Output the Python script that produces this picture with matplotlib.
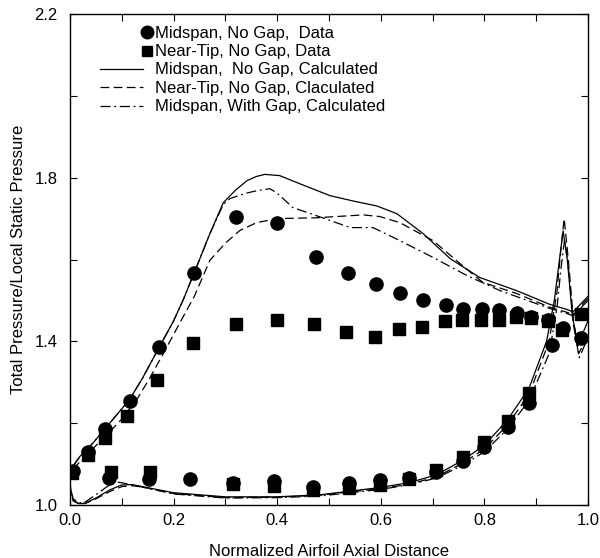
import numpy as np
import matplotlib
matplotlib.use("Agg")
import matplotlib.pyplot as plt
from matplotlib.legend_handler import HandlerLine2D
from matplotlib.ticker import MultipleLocator, FixedLocator

plt.rcParams['font.family'] = ['Liberation Sans', 'DejaVu Sans']
plt.rcParams['font.size'] = 12

# measured data, midspan (circles) and near tip (squares), both surfaces
mid_x = [0.006, 0.034, 0.068, 0.116, 0.172, 0.240, 0.320, 0.399, 0.475, 0.537,
         0.591, 0.637, 0.682, 0.725, 0.759, 0.795, 0.828, 0.862, 0.890, 0.923,
         0.952, 0.986,
         0.075, 0.153, 0.232, 0.315, 0.394, 0.469, 0.539, 0.598, 0.655, 0.706,
         0.759, 0.800, 0.846, 0.886, 0.931]
mid_y = [1.083, 1.129, 1.185, 1.254, 1.386, 1.568, 1.705, 1.690, 1.605, 1.566,
         1.539, 1.517, 1.502, 1.490, 1.478, 1.478, 1.476, 1.469, 1.459, 1.452,
         1.432, 1.407,
         1.066, 1.063, 1.063, 1.053, 1.058, 1.045, 1.053, 1.061, 1.065, 1.081,
         1.107, 1.142, 1.190, 1.249, 1.390]

tip_x = [0.004, 0.034, 0.068, 0.111, 0.168, 0.237, 0.320, 0.400, 0.471, 0.533,
         0.589, 0.635, 0.680, 0.724, 0.757, 0.793, 0.828, 0.861, 0.890, 0.923,
         0.950, 0.987,
         0.079, 0.154, 0.315, 0.394, 0.469, 0.539, 0.598, 0.655, 0.706, 0.759,
         0.800, 0.846, 0.886]
tip_y = [1.078, 1.122, 1.163, 1.217, 1.305, 1.395, 1.443, 1.453, 1.443, 1.424,
         1.410, 1.429, 1.435, 1.449, 1.453, 1.453, 1.453, 1.459, 1.456, 1.449,
         1.427, 1.468,
         1.081, 1.081, 1.051, 1.047, 1.037, 1.042, 1.049, 1.064, 1.085, 1.117,
         1.154, 1.205, 1.273]

# calculated, midspan no gap: suction side then pressure side
ms_up_x = [0.0, 0.02, 0.044, 0.07, 0.1, 0.116, 0.14, 0.172, 0.2, 0.218, 0.24,
           0.27, 0.296, 0.32, 0.342, 0.36, 0.376, 0.405, 0.438, 0.47, 0.502,
           0.55, 0.592, 0.631, 0.682, 0.734, 0.791, 0.862, 0.927, 0.959, 0.971,
           0.985, 1.0]
ms_up_y = [1.085, 1.12, 1.151, 1.19, 1.235, 1.26, 1.31, 1.385, 1.45, 1.50, 1.568,
           1.663, 1.739, 1.77, 1.793, 1.803, 1.808, 1.805, 1.788, 1.772, 1.756,
           1.742, 1.731, 1.712, 1.663, 1.602, 1.556, 1.524, 1.490, 1.478, 1.472,
           1.49, 1.51]
ms_lo_x = [0.0, 0.001, 0.006, 0.018, 0.03, 0.05, 0.077, 0.1, 0.12, 0.135, 0.2,
           0.3, 0.4, 0.483, 0.6, 0.656, 0.708, 0.759, 0.8, 0.844, 0.886, 0.92,
           0.935, 0.945, 0.952, 0.96, 0.97, 0.981, 0.99, 1.0]
ms_lo_y = [1.085, 1.04, 1.012, 1.003, 1.005, 1.017, 1.037, 1.049, 1.05, 1.046,
           1.030, 1.020, 1.020, 1.025, 1.043, 1.055, 1.074, 1.110, 1.146, 1.207,
           1.285, 1.40, 1.50, 1.60, 1.67, 1.60, 1.46, 1.39, 1.42, 1.45]

# calculated, near tip no gap
nt_up_x = [0.0, 0.03, 0.07, 0.1, 0.13, 0.154, 0.18, 0.218, 0.24, 0.27, 0.3,
           0.328, 0.36, 0.4, 0.476, 0.566, 0.598, 0.637, 0.701, 0.753, 0.797,
           0.862, 0.927, 0.959, 0.972, 0.985, 1.0]
nt_up_y = [1.08, 1.12, 1.17, 1.21, 1.26, 1.31, 1.37, 1.459, 1.51, 1.598, 1.64,
           1.671, 1.69, 1.700, 1.702, 1.709, 1.705, 1.690, 1.646, 1.590, 1.544,
           1.517, 1.483, 1.471, 1.465, 1.485, 1.505]
nt_lo_x = [0.0, 0.001, 0.006, 0.018, 0.03, 0.05, 0.077, 0.1, 0.12, 0.14, 0.2,
           0.3, 0.4, 0.483, 0.6, 0.656, 0.708, 0.759, 0.8, 0.844, 0.886, 0.925,
           0.94, 0.948, 0.954, 0.962, 0.972, 0.982, 0.99, 1.0]
nt_lo_y = [1.08, 1.035, 1.01, 1.002, 1.004, 1.015, 1.033, 1.045, 1.047, 1.044,
           1.028, 1.018, 1.019, 1.024, 1.040, 1.051, 1.069, 1.103, 1.137, 1.195,
           1.270, 1.40, 1.52, 1.63, 1.70, 1.60, 1.45, 1.37, 1.39, 1.42]

# calculated, midspan with tip gap
wg_up_x = [0.0, 0.02, 0.044, 0.07, 0.1, 0.116, 0.14, 0.172, 0.2, 0.218, 0.24,
           0.27, 0.296, 0.309, 0.34, 0.36, 0.386, 0.40, 0.419, 0.43, 0.476,
           0.541, 0.585, 0.637, 0.701, 0.766, 0.83, 0.927, 0.959, 0.972, 0.985,
           1.0]
wg_up_y = [1.085, 1.12, 1.151, 1.19, 1.235, 1.26, 1.31, 1.385, 1.45, 1.50, 1.568,
           1.663, 1.735, 1.749, 1.762, 1.768, 1.773, 1.762, 1.740, 1.727, 1.707,
           1.678, 1.678, 1.646, 1.605, 1.561, 1.524, 1.480, 1.468, 1.462, 1.48,
           1.50]
wg_lo_x = [0.0, 0.001, 0.006, 0.018, 0.03, 0.05, 0.075, 0.092, 0.11, 0.135, 0.2,
           0.3, 0.4, 0.483, 0.6, 0.656, 0.708, 0.759, 0.8, 0.844, 0.886, 0.925,
           0.94, 0.948, 0.955, 0.963, 0.972, 0.983, 0.99, 1.0]
wg_lo_y = [1.085, 1.04, 1.015, 1.005, 1.008, 1.025, 1.048, 1.056, 1.052, 1.045,
           1.027, 1.017, 1.018, 1.022, 1.038, 1.05, 1.066, 1.098, 1.130, 1.185,
           1.255, 1.37, 1.48, 1.58, 1.65, 1.57, 1.44, 1.36, 1.38, 1.41]

y_ticks = [1.0, 1.4, 1.8, 2.2]


def loop(ux, uy, lx, ly):
    # one closed trace around the airfoil: suction side back, pressure side
    x = list(reversed(ux)) + list(lx)
    y = list(reversed(uy)) + list(ly)
    return x, y


class MarkerAtRight(HandlerLine2D):
    def get_xdata(self, legend, xdescent, ydescent, width, height, fontsize):
        x = np.array([width - xdescent + 3.0])
        return x, x


fig = plt.figure(figsize=(6.0, 5.58), dpi=100)
ax = fig.add_axes([70 / 600, 53 / 558, 518 / 600, 491 / 558])

lw = 0.9
ax.plot(*loop(ms_up_x, ms_up_y, ms_lo_x, ms_lo_y), color='black', lw=lw,
        label='Midspan,  No Gap, Calculated')
ax.plot(*loop(nt_up_x, nt_up_y, nt_lo_x, nt_lo_y), color='black', lw=lw,
        dashes=(7, 3.5), label='Near-Tip, No Gap, Claculated')
ax.plot(*loop(wg_up_x, wg_up_y, wg_lo_x, wg_lo_y), color='black', lw=lw,
        dashes=(8, 3, 1.5, 3), label='Midspan, With Gap, Calculated')
ax.plot(mid_x, mid_y, 'o', color='black', ms=9.5, mec='black',
        label='Midspan, No Gap,  Data')
ax.plot(tip_x, tip_y, 's', color='black', ms=8, mec='black',
        label='Near-Tip, No Gap, Data')

ax.set_xlim(0.0, 1.0)
ax.set_ylim(1.0, 2.2)
ax.xaxis.set_major_locator(MultipleLocator(0.2))
ax.xaxis.set_minor_locator(MultipleLocator(0.1))
ax.yaxis.set_major_locator(FixedLocator(y_ticks))
ax.yaxis.set_minor_locator(MultipleLocator(0.2))
ax.xaxis.set_major_formatter('{x:.1f}')
ax.yaxis.set_major_formatter('{x:.1f}')
ax.tick_params(which='both', direction='in', top=True, right=True,
               length=5, width=0.8, labelsize=12)
ax.tick_params(axis='x', which='major', pad=6)
ax.tick_params(axis='y', which='major', pad=9)
for s in ax.spines.values():
    s.set_linewidth(1.0)

ax.set_xlabel('Normalized Airfoil Axial Distance', fontsize=12, labelpad=11)
ax.set_ylabel('Total Pressure/Local Static Pressure', fontsize=12, labelpad=6)

h, l = ax.get_legend_handles_labels()
order = [3, 4, 0, 1, 2]
ax.legend([h[i] for i in order], [l[i] for i in order],
          loc='upper left', bbox_to_anchor=(0.035, 1.0), frameon=False,
          fontsize=12, handlelength=2.6, handletextpad=0.72, labelspacing=0.2,
          handleheight=0.5, borderaxespad=0.3, markerscale=0.95,
          handler_map={h[3]: MarkerAtRight(), h[4]: MarkerAtRight()})

fig.savefig('out.png', dpi=100)
